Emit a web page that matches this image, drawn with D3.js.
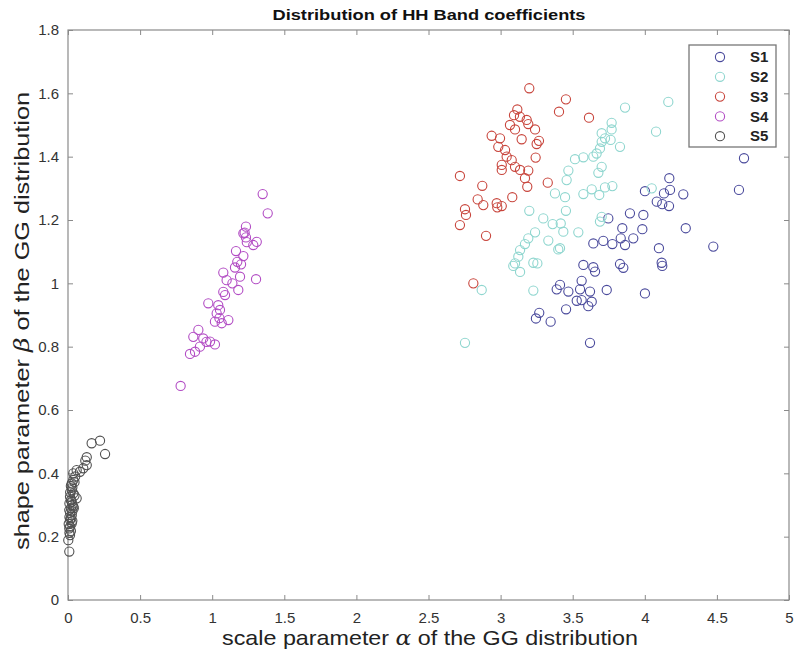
<!DOCTYPE html>
<html>
<head>
<meta charset="utf-8">
<script src="https://cdn.jsdelivr.net/npm/d3@7"></script>
<style>
  body { margin: 0; background: #fff; }
  svg { display: block; font-family: "Liberation Sans", Arial, sans-serif; }
</style>
</head>
<body>
<svg id="chart" width="794" height="659"></svg>
<script>
// series names and colours, as in the legend
var seriesNames = ['S1', 'S2', 'S3', 'S4', 'S5'];
var seriesColors = ['#4a4a9c', '#8fd6cf', '#c8453c', '#b24cc4', '#505050'];

var xTicks = [0, 0.5, 1, 1.5, 2, 2.5, 3, 3.5, 4, 4.5, 5];
var yTicks = [0, 0.2, 0.4, 0.6, 0.8, 1, 1.2, 1.4, 1.6, 1.8];

// [alpha, beta] pairs
var s1 = [
  [4.688, 1.395], [4.653, 1.295], [4.170, 1.332], [4.175, 1.295], [4.133, 1.284],
  [4.001, 1.291], [4.267, 1.281], [4.083, 1.258], [4.121, 1.250], [4.168, 1.244],
  [3.747, 1.205], [3.897, 1.221], [3.990, 1.216], [3.844, 1.174], [3.983, 1.171],
  [4.284, 1.174], [3.643, 1.126], [3.712, 1.134], [3.775, 1.124], [3.833, 1.142],
  [3.863, 1.121], [3.920, 1.142], [4.098, 1.111], [4.475, 1.116], [3.574, 1.058],
  [3.643, 1.051], [3.655, 1.037], [3.828, 1.061], [3.851, 1.049], [4.117, 1.065],
  [4.121, 1.055], [3.412, 0.995], [3.389, 0.981], [3.470, 0.974], [3.562, 1.008],
  [3.551, 0.981], [3.620, 0.974], [3.736, 0.979], [4.001, 0.968], [3.528, 0.945],
  [3.562, 0.947], [3.632, 0.942], [3.608, 0.928], [3.454, 0.918], [3.268, 0.907],
  [3.245, 0.889], [3.347, 0.879], [3.620, 0.812]
];
var s2 = [
  [3.863, 1.555], [4.163, 1.573], [4.078, 1.479], [3.770, 1.507], [3.770, 1.486],
  [3.701, 1.474], [3.763, 1.453], [3.701, 1.447], [3.828, 1.431], [3.689, 1.426],
  [3.724, 1.458], [3.666, 1.410], [3.643, 1.400], [3.574, 1.398], [3.516, 1.392],
  [3.701, 1.368], [3.678, 1.349], [3.470, 1.356], [3.458, 1.326], [3.377, 1.284],
  [3.447, 1.272], [3.574, 1.282], [3.632, 1.297], [3.684, 1.279], [3.724, 1.303],
  [3.775, 1.307], [4.048, 1.300], [3.199, 1.229], [3.453, 1.229], [3.296, 1.205],
  [3.361, 1.187], [3.417, 1.189], [3.435, 1.163], [3.539, 1.161], [3.239, 1.161],
  [3.192, 1.142], [3.331, 1.135], [3.689, 1.195], [3.701, 1.210], [3.169, 1.124],
  [3.135, 1.105], [3.400, 1.107], [3.412, 1.111], [3.123, 1.084], [3.100, 1.063],
  [3.227, 1.065], [3.255, 1.063], [3.135, 1.036], [3.088, 1.055], [2.869, 0.979],
  [3.227, 0.977], [2.753, 0.812]
];
var s3 = [
  [3.199, 1.616], [3.453, 1.581], [3.405, 1.542], [3.613, 1.523], [3.116, 1.549],
  [3.093, 1.531], [3.134, 1.526], [3.181, 1.516], [3.192, 1.503], [3.065, 1.500],
  [3.100, 1.486], [3.239, 1.486], [2.938, 1.466], [2.996, 1.458], [3.146, 1.455],
  [3.266, 1.450], [3.250, 1.440], [2.984, 1.431], [3.031, 1.421], [3.042, 1.400],
  [3.243, 1.397], [3.077, 1.389], [3.008, 1.374], [3.100, 1.368], [3.135, 1.358],
  [3.192, 1.356], [3.008, 1.358], [3.169, 1.332], [3.185, 1.305], [3.327, 1.318],
  [2.718, 1.339], [2.873, 1.308], [3.081, 1.272], [2.841, 1.265], [2.880, 1.247],
  [2.973, 1.253], [3.008, 1.244], [2.977, 1.240], [2.753, 1.234], [2.760, 1.216],
  [2.718, 1.184], [2.899, 1.150], [2.811, 1.000]
];
var s4 = [
  [1.350, 1.282], [1.385, 1.221], [1.234, 1.179], [1.216, 1.158], [1.234, 1.145],
  [1.309, 1.131], [1.285, 1.121], [1.165, 1.102], [1.216, 1.086], [1.174, 1.068],
  [1.158, 1.050], [1.077, 1.034], [1.193, 1.021], [1.304, 1.013], [1.100, 1.010],
  [1.181, 0.979], [1.077, 0.973], [1.089, 0.963], [0.973, 0.937], [1.042, 0.931],
  [1.054, 0.916], [1.031, 0.905], [1.112, 0.884], [1.019, 0.879], [1.066, 0.874],
  [0.904, 0.853], [0.869, 0.831], [0.938, 0.826], [0.985, 0.816], [0.915, 0.800],
  [1.019, 0.807], [0.881, 0.784], [0.846, 0.777], [0.781, 0.676], [1.225, 1.160],
  [1.140, 1.000], [1.050, 0.890], [0.960, 0.815], [1.200, 1.060], [1.240, 1.130]
];
var s5 = [
  [0.164, 0.495], [0.222, 0.503], [0.257, 0.461], [0.130, 0.451], [0.130, 0.426],
  [0.106, 0.416], [0.083, 0.405], [0.037, 0.400], [0.037, 0.379], [0.026, 0.368],
  [0.026, 0.347], [0.037, 0.337], [0.060, 0.321], [0.014, 0.326], [0.026, 0.310],
  [0.037, 0.295], [0.009, 0.284], [0.026, 0.268], [0.014, 0.253], [0.026, 0.242],
  [0.009, 0.226], [0.014, 0.205], [0.002, 0.189], [0.009, 0.153], [0.020, 0.360],
  [0.030, 0.355], [0.015, 0.340], [0.045, 0.330], [0.020, 0.315], [0.030, 0.300],
  [0.010, 0.305], [0.040, 0.290], [0.020, 0.290], [0.015, 0.275], [0.030, 0.280],
  [0.010, 0.262], [0.020, 0.258], [0.030, 0.250], [0.005, 0.240], [0.015, 0.232],
  [0.020, 0.218], [0.010, 0.212], [0.050, 0.390], [0.060, 0.410], [0.120, 0.440],
  [0.045, 0.372]
];
var seriesData = [s1, s2, s3, s4, s5];

var svg = d3.select('#chart');
var box = { left: 68, right: 789, top: 30, bottom: 600 };

var x = d3.scaleLinear().domain([0, 5]).range([box.left, box.right]);
var y = d3.scaleLinear().domain([0, 1.8]).range([box.bottom, box.top]);

var fmt = function (d) { return String(+d.toFixed(1)); };

// axes: ticks point inward, the frame is drawn separately
function styleAxis(g) {
  g.select('.domain').remove();
  g.selectAll('.tick line').attr('stroke', '#8a8a8a');
  g.selectAll('.tick text').attr('fill', '#333').style('font-size', '15px');
}

svg.append('g')
  .attr('transform', 'translate(0,' + box.bottom + ')')
  .call(d3.axisBottom(x).tickValues(xTicks).tickFormat(fmt).tickSizeInner(-5).tickSizeOuter(0).tickPadding(12))
  .call(styleAxis);

svg.append('g')
  .attr('transform', 'translate(0,' + box.top + ')')
  .call(d3.axisTop(x).tickValues(xTicks).tickFormat('').tickSizeInner(-5).tickSizeOuter(0))
  .call(styleAxis);

svg.append('g')
  .attr('transform', 'translate(' + box.left + ',0)')
  .call(d3.axisLeft(y).tickValues(yTicks).tickFormat(fmt).tickSizeInner(-5).tickSizeOuter(0).tickPadding(9))
  .call(styleAxis);

svg.append('g')
  .attr('transform', 'translate(' + box.right + ',0)')
  .call(d3.axisRight(y).tickValues(yTicks).tickFormat('').tickSizeInner(-5).tickSizeOuter(0))
  .call(styleAxis);

svg.append('rect')
  .attr('x', box.left).attr('y', box.top)
  .attr('width', box.right - box.left).attr('height', box.bottom - box.top)
  .attr('fill', 'none').attr('stroke', '#8a8a8a').attr('stroke-width', 1.2);

// scatter points, open circles
seriesData.forEach(function (pts, i) {
  svg.append('g').attr('class', 'series-' + seriesNames[i])
    .selectAll('circle').data(pts).enter().append('circle')
    .attr('cx', function (d) { return x(d[0]); })
    .attr('cy', function (d) { return y(d[1]); })
    .attr('r', 4.6)
    .attr('fill', 'none')
    .attr('stroke', seriesColors[i])
    .attr('stroke-width', 1.1);
});

// title
svg.append('text')
  .attr('x', 429).attr('y', 20)
  .attr('text-anchor', 'middle')
  .attr('textLength', 313).attr('lengthAdjust', 'spacingAndGlyphs')
  .style('font-size', '15px').style('font-weight', 'bold').attr('fill', '#111')
  .text('Distribution of HH Band coefficients');

// axis labels with greek symbols
var xLabel = svg.append('text')
  .attr('x', 430).attr('y', 645)
  .attr('text-anchor', 'middle')
  .attr('textLength', 416).attr('lengthAdjust', 'spacingAndGlyphs')
  .style('font-size', '21px').attr('fill', '#222');
xLabel.append('tspan').text('scale parameter ');
xLabel.append('tspan').style('font-family', '"DejaVu Serif", serif').style('font-style', 'italic').text('\u03B1');
xLabel.append('tspan').text(' of the GG distribution');

var yLabel = svg.append('text')
  .attr('transform', 'translate(29,321) rotate(-90)')
  .attr('text-anchor', 'middle')
  .attr('textLength', 458).attr('lengthAdjust', 'spacingAndGlyphs')
  .style('font-size', '21px').attr('fill', '#222');
yLabel.append('tspan').text('shape parameter ');
yLabel.append('tspan').style('font-family', '"DejaVu Serif", serif').style('font-style', 'italic').text('\u03B2');
yLabel.append('tspan').text(' of the GG distribution');

// legend
var legend = svg.append('g').attr('class', 'legend');
legend.append('rect')
  .attr('x', 689).attr('y', 45).attr('width', 87).attr('height', 102)
  .attr('fill', '#fff').attr('stroke', '#777').attr('stroke-width', 1.3);

var rows = legend.selectAll('.row').data(seriesNames).enter().append('g')
  .attr('class', 'row')
  .attr('transform', function (d, i) { return 'translate(0,' + (57 + i * 19.8) + ')'; });
rows.append('circle')
  .attr('cx', 720).attr('cy', 0).attr('r', 4.6)
  .attr('fill', 'none').attr('stroke', function (d, i) { return seriesColors[i]; })
  .attr('stroke-width', 1.1);
rows.append('text')
  .attr('x', 750).attr('y', 0).attr('dy', '0.35em')
  .style('font-size', '15px').style('font-weight', 'bold').attr('fill', '#222')
  .text(function (d) { return d; });
</script>
</body>
</html>
